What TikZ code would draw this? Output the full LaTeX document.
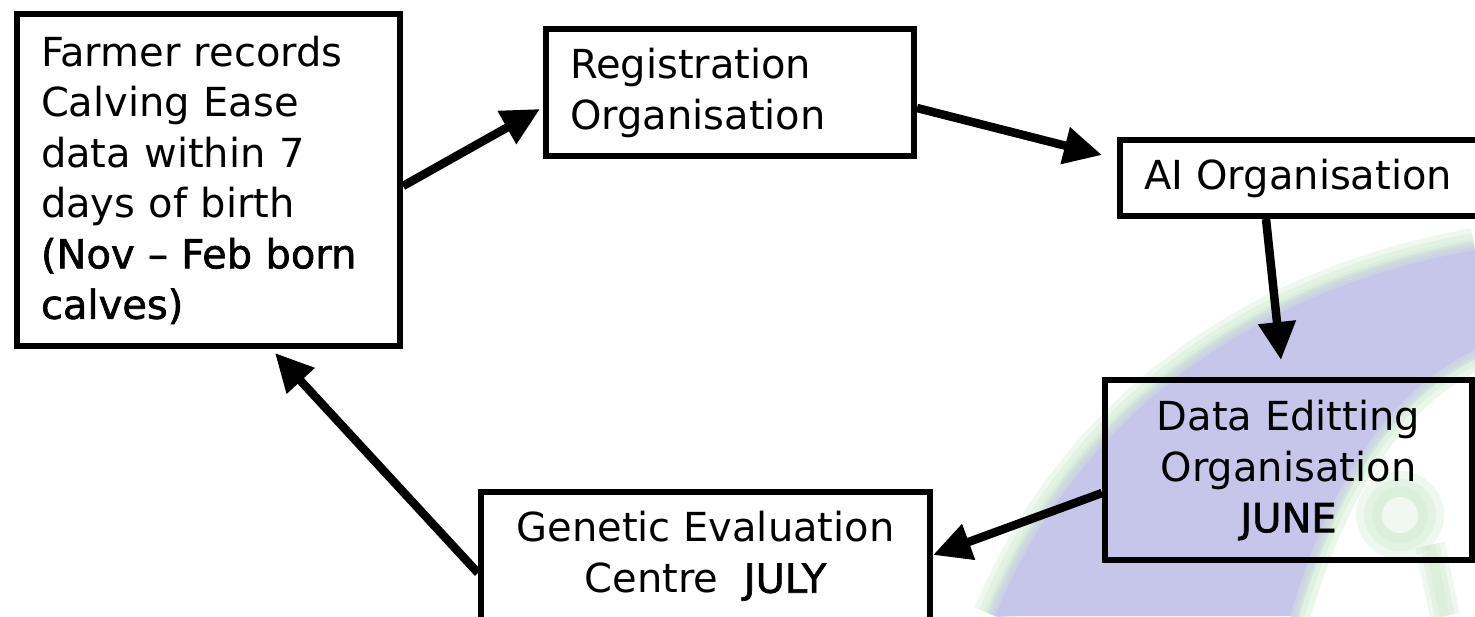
\documentclass[tikz,border=0pt]{standalone}
\usepackage{fontspec}
\setmainfont{DejaVu Sans}[BoldFont=DejaVu Sans,BoldFeatures={FakeBold=1.6}]
\usetikzlibrary{arrows.meta, positioning, calc}
\definecolor{swoosh}{RGB}{198,198,235}
\definecolor{swooshgreen}{RGB}{200,231,200}

\begin{document}
\begin{tikzpicture}[x=1pt,y=-1pt,
    box/.style={draw, line width=6pt, inner sep=0pt, anchor=north west, font=\fontsize{40}{51}\selectfont},
    flow/.style={line width=8.5pt, -{Triangle[length=38pt,width=36pt]}}]
    \useasboundingbox (0,0) rectangle (1475,616);
    \clip (0,0) rectangle (1475,616);
    % background swoosh, soft edges
    \foreach \w in {44,34,24,14}
        \draw[swooshgreen, opacity=.3, line width=\w pt] (1475,250) .. controls (1250,290) and (1075,420) .. (995,616);
    \foreach \w in {40,28,16}
        \draw[swooshgreen, opacity=.35, line width=\w pt] (1290,616) .. controls (1330,480) and (1390,390) .. (1475,350);
    \fill[swoosh] (1475,250) .. controls (1250,290) and (1075,420) .. (995,616) -- (1290,616) .. controls (1330,480) and (1390,390) .. (1475,350) -- cycle;
    \foreach \w in {6,12,18}
        \draw[swoosh, opacity=.3, line width=\w pt] (1475,250) .. controls (1250,290) and (1075,420) .. (995,616) (1290,616) .. controls (1330,480) and (1390,390) .. (1475,350);
    \foreach \r in {44,36,28}
        \fill[swooshgreen, opacity=.3] (1400,515) circle (\r);
    \fill[white, opacity=.6] (1400,515) circle (18);
    \foreach \w in {30,20,10}
        \draw[swooshgreen, opacity=.3, line width=\w pt] (1430,545) -- (1445,616);

    \node[box, minimum width=383pt, minimum height=332pt, text width=335pt, align=left,
          font=\fontsize{40}{50.5}\selectfont] (farmer) at (14,11)
        {Farmer records\\Calving Ease\\data within 7\\days of birth\\\textbf{(Nov – Feb born}\\\textbf{calves)}};
    \node[box, minimum width=368pt, minimum height=127pt, text width=320pt, align=left] (reg) at (543,26)
        {Registration\\Organisation};
    \node[box, minimum width=365pt, minimum height=76pt, text width=317pt, align=left] (ai) at (1117,137)
        {AI Organisation};
    \node[box, minimum width=367pt, minimum height=180pt, align=center] (data) at (1102,377)
        {Data Editting\\Organisation\\\textbf{JUNE}};
    \node[box, minimum width=449pt, minimum height=128pt, align=center] (gen) at (478,489)
        {Genetic Evaluation\\Centre~ \textbf{JULY}};

    \draw[flow] ([yshift=-6pt]farmer.east) -- ([shift={(-3pt,-16.5pt)}]reg.west);
    \draw[flow] ([yshift=-15.5pt]reg.east) -- ([shift={(-15pt,23pt)}]ai.west);
    \draw[flow] ([xshift=-36.5pt]ai.south) -- ([shift={(-7.5pt,17pt)}]data.north);
    \draw[flow] ([yshift=-23pt]data.west) -- ([yshift=1pt]gen.east);
    \draw[flow] ([yshift=-17pt]gen.west) -- ([shift={(66.5pt,-4pt)}]farmer.south);
\end{tikzpicture}
\end{document}
